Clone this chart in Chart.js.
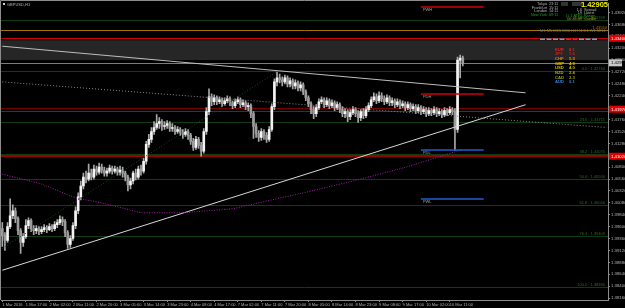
<!DOCTYPE html>
<html>
<head>
<meta charset="utf-8">
<script src="https://cdn.jsdelivr.net/npm/chart.js@4.4.0/dist/chart.umd.min.js"></script>
<style>
  html, body { margin: 0; padding: 0; background: #000; overflow: hidden; }
</style>
</head>
<body>
<canvas id="mt4Chart" width="625" height="308"></canvas>
<script>
// x axis: one slot per H1 bar, labels every 9 bars
const timeLabels = ['1 Mar 2016', '1 Mar 17:00', '2 Mar 02:00', '2 Mar 11:00', '2 Mar 20:00', '3 Mar 05:00',
  '3 Mar 14:00', '3 Mar 23:00', '4 Mar 08:00', '4 Mar 17:00', '7 Mar 02:00', '7 Mar 11:00', '7 Mar 20:00',
  '8 Mar 05:00', '8 Mar 14:00', '8 Mar 23:00', '9 Mar 08:00', '9 Mar 17:00', '10 Mar 02:00', '10 Mar 11:00'];
const labelEvery = 9;
const slotCount = 232;

// GBPUSD H1 candles: [open, high, low, close]
const candles = [
  [1.3956, 1.3968, 1.3920, 1.3942], [1.3942, 1.3948, 1.3912, 1.3932], [1.3932, 1.3968, 1.3928, 1.3960],
  [1.3960, 1.4016, 1.3956, 1.3982], [1.3982, 1.4004, 1.3976, 1.3992], [1.3992, 1.3998, 1.3968, 1.3976],
  [1.3976, 1.3980, 1.3944, 1.3952], [1.3952, 1.3956, 1.3906, 1.3928], [1.3928, 1.3946, 1.3920, 1.3940],
  [1.3940, 1.3974, 1.3936, 1.3962], [1.3962, 1.3978, 1.3956, 1.3972], [1.3972, 1.3976, 1.3950, 1.3956],
  [1.3956, 1.3962, 1.3944, 1.3952], [1.3952, 1.3962, 1.3946, 1.3956], [1.3956, 1.3960, 1.3944, 1.3950],
  [1.3950, 1.3960, 1.3946, 1.3954], [1.3954, 1.3964, 1.3950, 1.3958], [1.3958, 1.3962, 1.3948, 1.3954],
  [1.3954, 1.3966, 1.3952, 1.3960], [1.3960, 1.3964, 1.3950, 1.3956], [1.3956, 1.3970, 1.3952, 1.3964],
  [1.3964, 1.3974, 1.3958, 1.3968], [1.3968, 1.3982, 1.3964, 1.3974], [1.3974, 1.3980, 1.3962, 1.3970],
  [1.3970, 1.3974, 1.3940, 1.3948], [1.3948, 1.3952, 1.3916, 1.3924], [1.3924, 1.3942, 1.3918, 1.3936],
  [1.3936, 1.3968, 1.3932, 1.3962], [1.3962, 1.4000, 1.3956, 1.3992], [1.3992, 1.4028, 1.3986, 1.4020],
  [1.4020, 1.4052, 1.4014, 1.4042], [1.4042, 1.4068, 1.4036, 1.4060], [1.4060, 1.4072, 1.4048, 1.4056],
  [1.4056, 1.4086, 1.4052, 1.4068], [1.4068, 1.4076, 1.4054, 1.4060], [1.4060, 1.4084, 1.4056, 1.4076],
  [1.4076, 1.4082, 1.4064, 1.4070], [1.4070, 1.4088, 1.4066, 1.4080], [1.4080, 1.4086, 1.4068, 1.4074],
  [1.4074, 1.4080, 1.4062, 1.4068], [1.4068, 1.4078, 1.4062, 1.4072], [1.4072, 1.4084, 1.4068, 1.4078],
  [1.4078, 1.4082, 1.4066, 1.4072], [1.4072, 1.4082, 1.4068, 1.4076], [1.4076, 1.4080, 1.4064, 1.4070],
  [1.4070, 1.4082, 1.4064, 1.4074], [1.4074, 1.4080, 1.4060, 1.4068], [1.4068, 1.4072, 1.4052, 1.4060],
  [1.4060, 1.4064, 1.4032, 1.4044], [1.4044, 1.4058, 1.4036, 1.4052], [1.4052, 1.4072, 1.4046, 1.4068],
  [1.4068, 1.4076, 1.4054, 1.4060], [1.4060, 1.4082, 1.4056, 1.4076], [1.4076, 1.4084, 1.4064, 1.4072],
  [1.4072, 1.4098, 1.4068, 1.4092], [1.4092, 1.4132, 1.4086, 1.4126], [1.4126, 1.4146, 1.4120, 1.4136],
  [1.4136, 1.4160, 1.4130, 1.4152], [1.4152, 1.4172, 1.4146, 1.4160], [1.4160, 1.4186, 1.4156, 1.4168],
  [1.4168, 1.4180, 1.4158, 1.4172], [1.4172, 1.4176, 1.4154, 1.4162], [1.4162, 1.4172, 1.4156, 1.4164],
  [1.4164, 1.4174, 1.4158, 1.4168], [1.4168, 1.4172, 1.4152, 1.4158], [1.4158, 1.4168, 1.4152, 1.4160],
  [1.4160, 1.4164, 1.4146, 1.4152], [1.4152, 1.4162, 1.4148, 1.4156], [1.4156, 1.4160, 1.4144, 1.4150],
  [1.4150, 1.4156, 1.4138, 1.4146], [1.4146, 1.4158, 1.4142, 1.4152], [1.4152, 1.4156, 1.4136, 1.4144],
  [1.4144, 1.4148, 1.4126, 1.4132], [1.4132, 1.4138, 1.4114, 1.4120], [1.4120, 1.4142, 1.4116, 1.4136],
  [1.4136, 1.4140, 1.4118, 1.4124], [1.4124, 1.4130, 1.4102, 1.4112], [1.4112, 1.4158, 1.4108, 1.4152],
  [1.4152, 1.4200, 1.4146, 1.4192], [1.4192, 1.4238, 1.4186, 1.4222], [1.4222, 1.4228, 1.4204, 1.4212],
  [1.4212, 1.4226, 1.4206, 1.4220], [1.4220, 1.4224, 1.4206, 1.4212], [1.4212, 1.4222, 1.4208, 1.4216],
  [1.4216, 1.4220, 1.4202, 1.4208], [1.4208, 1.4220, 1.4204, 1.4214], [1.4214, 1.4224, 1.4210, 1.4218],
  [1.4218, 1.4222, 1.4204, 1.4210], [1.4210, 1.4214, 1.4198, 1.4204], [1.4204, 1.4218, 1.4200, 1.4212],
  [1.4212, 1.4222, 1.4208, 1.4216], [1.4216, 1.4220, 1.4200, 1.4206], [1.4206, 1.4216, 1.4202, 1.4210],
  [1.4210, 1.4214, 1.4196, 1.4202], [1.4202, 1.4210, 1.4194, 1.4204], [1.4204, 1.4208, 1.4180, 1.4188],
  [1.4188, 1.4192, 1.4138, 1.4162], [1.4162, 1.4168, 1.4140, 1.4148], [1.4148, 1.4154, 1.4132, 1.4140],
  [1.4140, 1.4158, 1.4134, 1.4152], [1.4152, 1.4156, 1.4136, 1.4144], [1.4144, 1.4150, 1.4130, 1.4136],
  [1.4136, 1.4162, 1.4132, 1.4156], [1.4156, 1.4208, 1.4152, 1.4202], [1.4202, 1.4258, 1.4196, 1.4252],
  [1.4252, 1.4272, 1.4244, 1.4260], [1.4260, 1.4268, 1.4250, 1.4256], [1.4256, 1.4262, 1.4244, 1.4252],
  [1.4252, 1.4266, 1.4248, 1.4260], [1.4260, 1.4264, 1.4242, 1.4248], [1.4248, 1.4260, 1.4242, 1.4254],
  [1.4254, 1.4258, 1.4238, 1.4244], [1.4244, 1.4256, 1.4238, 1.4250], [1.4250, 1.4254, 1.4234, 1.4240],
  [1.4240, 1.4252, 1.4234, 1.4246], [1.4246, 1.4250, 1.4226, 1.4232], [1.4232, 1.4236, 1.4214, 1.4220],
  [1.4220, 1.4224, 1.4202, 1.4208], [1.4208, 1.4212, 1.4188, 1.4196], [1.4196, 1.4202, 1.4178, 1.4188],
  [1.4188, 1.4206, 1.4182, 1.4200], [1.4200, 1.4218, 1.4196, 1.4212], [1.4212, 1.4222, 1.4208, 1.4216],
  [1.4216, 1.4220, 1.4200, 1.4206], [1.4206, 1.4220, 1.4202, 1.4214], [1.4214, 1.4218, 1.4198, 1.4204],
  [1.4204, 1.4216, 1.4200, 1.4210], [1.4210, 1.4214, 1.4194, 1.4200], [1.4200, 1.4212, 1.4196, 1.4206],
  [1.4206, 1.4210, 1.4190, 1.4196], [1.4196, 1.4202, 1.4182, 1.4188], [1.4188, 1.4198, 1.4180, 1.4192],
  [1.4192, 1.4196, 1.4172, 1.4182], [1.4182, 1.4196, 1.4176, 1.4190], [1.4190, 1.4202, 1.4186, 1.4196],
  [1.4196, 1.4200, 1.4182, 1.4188], [1.4188, 1.4194, 1.4170, 1.4180], [1.4180, 1.4196, 1.4174, 1.4192],
  [1.4192, 1.4198, 1.4178, 1.4184], [1.4184, 1.4202, 1.4180, 1.4196], [1.4196, 1.4210, 1.4192, 1.4204],
  [1.4204, 1.4222, 1.4200, 1.4216], [1.4216, 1.4230, 1.4212, 1.4222], [1.4222, 1.4228, 1.4208, 1.4214],
  [1.4214, 1.4232, 1.4210, 1.4224], [1.4224, 1.4230, 1.4212, 1.4218], [1.4218, 1.4224, 1.4206, 1.4212],
  [1.4212, 1.4226, 1.4208, 1.4220], [1.4220, 1.4224, 1.4204, 1.4210], [1.4210, 1.4220, 1.4204, 1.4214],
  [1.4214, 1.4218, 1.4200, 1.4206], [1.4206, 1.4218, 1.4202, 1.4212], [1.4212, 1.4216, 1.4198, 1.4204],
  [1.4204, 1.4214, 1.4200, 1.4208], [1.4208, 1.4212, 1.4194, 1.4200], [1.4200, 1.4212, 1.4196, 1.4206],
  [1.4206, 1.4210, 1.4192, 1.4198], [1.4198, 1.4208, 1.4194, 1.4202], [1.4202, 1.4206, 1.4188, 1.4194],
  [1.4194, 1.4206, 1.4190, 1.4200], [1.4200, 1.4204, 1.4186, 1.4192], [1.4192, 1.4202, 1.4188, 1.4196],
  [1.4196, 1.4200, 1.4182, 1.4188], [1.4188, 1.4200, 1.4184, 1.4194], [1.4194, 1.4198, 1.4184, 1.4190],
  [1.4190, 1.4202, 1.4186, 1.4196], [1.4196, 1.4200, 1.4182, 1.4188], [1.4188, 1.4198, 1.4184, 1.4192],
  [1.4192, 1.4196, 1.4180, 1.4186], [1.4186, 1.4200, 1.4182, 1.4194], [1.4194, 1.4198, 1.4184, 1.4190],
  [1.4190, 1.4202, 1.4186, 1.4196], [1.4196, 1.4200, 1.4186, 1.4192], [1.4192, 1.4198, 1.4114, 1.4156],
  [1.4156, 1.4302, 1.4150, 1.4296], [1.4296, 1.4306, 1.4260, 1.4300], [1.4300, 1.4304, 1.4284, 1.42905]
];
const lastPrice = 1.42905;

// right price scale
const priceMin = 1.3812;
const priceMax = 1.4410;
const priceTicks = [1.38160, 1.38400, 1.38640, 1.38880, 1.39120, 1.39360, 1.39600, 1.39840, 1.40080, 1.40320,
  1.40560, 1.40800, 1.41040, 1.41280, 1.41520, 1.41760, 1.42000, 1.42240, 1.42480, 1.42720, 1.42960, 1.43200,
  1.43440, 1.43680, 1.43920];

// fibonacci levels (label, price)
const fibLevels = [['123.6', 1.43769], ['0.0', 1.42740], ['23.6', 1.41711], ['38.2', 1.41075],
  ['50.0', 1.40560], ['61.8', 1.40046], ['76.4', 1.39409], ['100.0', 1.38380]];

// other horizontal lines: price, colour, width
const hLines = [[1.4356, '#a87400', 1], [1.4340, '#d00000', 1], [1.4200, '#7a0000', 1],
  [1.4194, '#b00000', 1], [1.4102, '#9a0000', 2]];
const greyBand = [1.4296, 1.4336];
const redTags = [1.4340, 1.4197, 1.4102];
const orangeLabel = '1.43560';

// previous week / day high & low, drawn from bar 160 to 184
const pivots = [['PWH', 1.4404, '#d00000'], ['PDH', 1.4228, '#d00000'], ['PDL', 1.4114, '#1f5fd0'], ['PWL', 1.4016, '#1f5fd0']];
const pivotSpan = [160, 184];

// trend lines and averages as [bar, price] points
const descTrend = [[0, 1.4324], [200, 1.4230]];
const ascTrend = [[0, 1.3872], [200, 1.4206]];
const greyDotted = [[0, 1.4252], [231, 1.4160]];
const greenDotted = [[0, 1.3916], [106, 1.4276]];
const magentaMA = [[0, 1.4066], [15, 1.4046], [28, 1.4018], [38, 1.4008], [53, 1.3988], [69, 1.3988], [88, 1.3996],
  [103, 1.4014], [115, 1.4028], [134, 1.4052], [153, 1.4078], [164, 1.4096], [176, 1.4116]];

// info panel texts
const sessions = [['Tokyo', '23:11', '#b4b4b4'], ['Frankfurt', '15:11', '#b4b4b4'], ['London', '14:11', '#b4b4b4'], ['New York', '09:11', '#22a022']];
const stats = [['1.6', 'Spread', '#b4b4b4'], ['19', 'Latest', '#b4b4b4'], ['(1.1 ATR)', 'Range', '#22a022'], ['00:48:49', 'Candle', '#d09000']];
const timeframes = 'M1 M5 M15 M30 H1 H4 D1 W1 MN1';
const tfColors = ['#10c8f0', '#10c8f0', '#10c8f0', '#10c8f0', '#e02020', '#e02020', '#10c8f0', '#10c8f0', '#10c8f0'];
const currencies = ['EUR', 'JPY', 'CHF', 'GBP', 'USD', 'NZD', 'CAD', 'AUD'];
const strength = [8.1, 7.6, 5.9, 4.9, 4.0, 2.4, 2.3, 0.1];
const strengthColors = ['#e02020', '#d02020', '#e08000', '#d8c000', '#c8c000', '#b0b000', '#a0a000', '#3080e0'];

const FONT = 'Liberation Sans';

function toSeries(points) {
  const arr = new Array(slotCount).fill(null);
  points.forEach(([i, v]) => { arr[i] = v; });
  return arr;
}

function lineSet(points, color, dash, width) {
  return {
    type: 'line', data: toSeries(points), borderColor: color, borderWidth: width || 1,
    borderDash: dash || [], pointRadius: 0, spanGaps: true, tension: 0, order: 1
  };
}

const mt4Plugin = {
  id: 'mt4',
  beforeDraw(chart) {
    const { ctx, width, height } = chart;
    ctx.save();
    ctx.fillStyle = '#000';
    ctx.fillRect(0, 0, width, height);
    ctx.restore();
  },
  beforeDatasetsDraw(chart) {
    const { ctx, chartArea: a, scales: { y } } = chart;
    ctx.save();
    const top = y.getPixelForValue(greyBand[1]);
    const bot = y.getPixelForValue(greyBand[0]);
    ctx.fillStyle = '#262626';
    ctx.fillRect(a.left, top, a.right - a.left, bot - top);

    ctx.font = '4px ' + FONT;
    ctx.textAlign = 'right';
    ctx.textBaseline = 'bottom';
    fibLevels.forEach(([lbl, p]) => {
      const py = Math.round(y.getPixelForValue(p)) + 0.5;
      ctx.strokeStyle = '#123c12';
      ctx.lineWidth = 1;
      ctx.beginPath(); ctx.moveTo(a.left, py); ctx.lineTo(a.right, py); ctx.stroke();
      ctx.fillStyle = '#2a6a2a';
      ctx.fillText(lbl + ' : ' + p.toFixed(5), a.right - 3, py - 1);
    });
    hLines.forEach(([p, color, w]) => {
      const py = Math.round(y.getPixelForValue(p)) + (w === 1 ? 0.5 : 0);
      ctx.strokeStyle = color;
      ctx.lineWidth = w;
      ctx.beginPath(); ctx.moveTo(a.left, py); ctx.lineTo(a.right, py); ctx.stroke();
    });
    const cy = Math.round(y.getPixelForValue(lastPrice)) + 0.5;
    ctx.strokeStyle = '#6f7f8f';
    ctx.lineWidth = 1;
    ctx.beginPath(); ctx.moveTo(a.left, cy); ctx.lineTo(a.right, cy); ctx.stroke();
    ctx.fillStyle = '#a87400';
    ctx.fillText(orangeLabel, a.right - 1, Math.round(y.getPixelForValue(hLines[0][0])) - 0.5);
    ctx.restore();
  },
  afterDatasetsDraw(chart) {
    const { ctx, scales: { x, y } } = chart;
    ctx.save();
    const x0 = x.getPixelForValue(pivotSpan[0]);
    const x1 = x.getPixelForValue(pivotSpan[1]);
    ctx.font = '4px ' + FONT;
    ctx.textAlign = 'left';
    ctx.textBaseline = 'top';
    pivots.forEach(([lbl, p, color]) => {
      const py = Math.round(y.getPixelForValue(p));
      ctx.strokeStyle = color;
      ctx.lineWidth = 1.5;
      ctx.beginPath(); ctx.moveTo(x0, py); ctx.lineTo(x1, py); ctx.stroke();
      ctx.fillStyle = '#a0a0a0';
      ctx.fillText(lbl, x0 + 2, py + 1);
    });
    ctx.restore();
  },
  afterDraw(chart) {
    const { ctx, chartArea: a, scales: { y }, width } = chart;
    ctx.save();
    // frame
    ctx.strokeStyle = '#8c8c8c';
    ctx.lineWidth = 1;
    ctx.beginPath();
    ctx.moveTo(0.5, a.bottom); ctx.lineTo(0.5, 0.5); ctx.lineTo(a.right, 0.5);
    ctx.stroke();

    // symbol
    ctx.fillStyle = '#d0d0d0';
    ctx.fillRect(3, 3, 2, 2);
    ctx.font = '4px ' + FONT;
    ctx.textBaseline = 'middle';
    ctx.textAlign = 'left';
    ctx.fillStyle = '#b4b4b4';
    ctx.fillText('GBPUSD,H1', 7, 4.5);

    // price tags on the axis
    ctx.font = '4.3px ' + FONT;
    redTags.forEach(p => {
      const py = y.getPixelForValue(p);
      ctx.fillStyle = '#e00000';
      ctx.fillRect(a.right + 1, py - 3.5, width - a.right - 1, 7);
      ctx.fillStyle = '#ffffff';
      ctx.fillText(p.toFixed(5), a.right + 3, py + 0.3);
    });
    const cy = y.getPixelForValue(lastPrice);
    ctx.fillStyle = '#c8c8c8';
    ctx.fillRect(a.right + 1, cy - 3.5, width - a.right - 4, 7);
    ctx.fillStyle = '#000';
    ctx.fillText(lastPrice.toFixed(5), a.right + 3, cy + 0.3);

    // sessions
    ctx.font = '3.8px ' + FONT;
    sessions.forEach(([name, t, c], i) => {
      const ty = 4 + i * 3.7;
      ctx.fillStyle = c;
      ctx.textAlign = 'right';
      ctx.fillText(name, 547, ty);
      ctx.textAlign = 'left';
      ctx.fillText(t, 549, ty);
    });
    // boxes + big price
    ctx.fillStyle = '#333333';
    ctx.fillRect(561, 2, 7, 4);
    ctx.fillRect(572, 2, 10, 4);
    ctx.font = 'bold 7.5px ' + FONT;
    ctx.textAlign = 'right';
    ctx.fillStyle = '#f0f000';
    ctx.fillText(lastPrice.toFixed(5), 608, 5);
    ctx.font = '3.8px ' + FONT;
    stats.forEach(([v, lbl, c], i) => {
      const ty = 9.5 + i * 3.3;
      ctx.fillStyle = c;
      ctx.textAlign = 'right';
      ctx.fillText(v, 582, ty);
      ctx.textAlign = 'left';
      ctx.fillText(lbl, 584, ty);
    });

    // timeframe strip
    ctx.fillStyle = '#4a7ab8';
    ctx.textAlign = 'left';
    ctx.font = '4px ' + FONT;
    ctx.fillText(timeframes, 540, 31);
    tfColors.forEach((c, i) => {
      ctx.fillStyle = c;
      ctx.fillRect(540 + i * 6.5, 38.5, 5, 1.5);
    });

    // currency strength
    ctx.font = 'bold 4.2px ' + FONT;
    currencies.forEach((cur, i) => {
      const ty = 49.5 + i * 4.65;
      ctx.fillStyle = strengthColors[i];
      ctx.textAlign = 'left';
      ctx.fillText(cur, 555, ty);
      ctx.fillText(strength[i].toFixed(1), 569, ty);
    });
    ctx.restore();
  }
};

const ctx = document.getElementById('mt4Chart').getContext('2d');
const slotLabels = Array.from({ length: slotCount }, (_, i) => String(i));
const isBull = c => c[3] >= c[0];

new Chart(ctx, {
  data: {
    labels: slotLabels,
    datasets: [
      {
        type: 'bar', data: candles.map(c => [c[2], c[1]]), backgroundColor: '#a8a8a8',
        barThickness: 1, grouped: false, order: 3
      },
      {
        type: 'bar', data: candles.map(c => [c[0], c[3]]),
        backgroundColor: candles.map(c => isBull(c) ? '#f4f4f4' : '#9c9c9c'),
        barThickness: 2, minBarLength: 1, grouped: false, order: 2
      },
      lineSet(greenDotted, '#1c4a1c', [1, 2]),
      lineSet(greyDotted, '#8a8a8a', [1, 2]),
      lineSet(magentaMA, '#a020a8', [1, 1.5]),
      lineSet(descTrend, '#bdbdbd'),
      lineSet(ascTrend, '#d8d8d8')
    ]
  },
  options: {
    responsive: false,
    animation: false,
    layout: { padding: { left: 1, top: 1, right: 0, bottom: 0 } },
    plugins: { legend: { display: false }, tooltip: { enabled: false } },
    scales: {
      x: {
        type: 'category',
        offset: true,
        afterFit(s) { s.height = 8; },
        grid: { display: true, offset: false, drawOnChartArea: false, tickLength: 2, color: '#8c8c8c' },
        border: { color: '#8c8c8c' },
        ticks: {
          autoSkip: false, maxRotation: 0, align: 'start', padding: 0,
          color: '#b4b4b4', font: { size: 4, family: FONT },
          callback(value, index) {
            if (index % labelEvery !== 0) return null;
            return timeLabels[index / labelEvery] || null;
          }
        }
      },
      y: {
        position: 'right',
        min: priceMin,
        max: priceMax,
        afterFit(s) { s.width = 17; },
        afterBuildTicks(s) { s.ticks = priceTicks.map(v => ({ value: v })); },
        grid: { display: true, drawOnChartArea: false, tickLength: 2, color: '#8c8c8c' },
        border: { color: '#8c8c8c' },
        ticks: {
          autoSkip: false, padding: 1, color: '#b4b4b4', font: { size: 4.3, family: FONT },
          callback: v => v.toFixed(5)
        }
      }
    }
  },
  plugins: [mt4Plugin]
});
</script>
</body>
</html>
